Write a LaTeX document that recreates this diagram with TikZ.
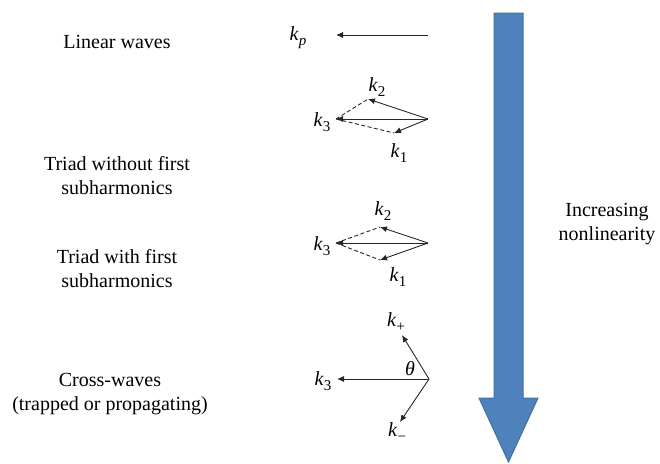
\documentclass[tikz,border=0pt]{standalone}
\usepackage{fontspec}
\setmainfont{Liberation Serif}
\usetikzlibrary{arrows.meta}
\newcommand{\kvec}[1]{\textit{k}\kern0.3pt\raisebox{-0.55ex}{\fontsize{15}{15}\selectfont #1}}
\definecolor{bigblue}{HTML}{4F81BD}
\definecolor{bigedge}{HTML}{41719C}
\begin{document}
\begin{tikzpicture}[x=1pt,y=-1pt,
  lbl/.style={font=\fontsize{20}{24}\selectfont, align=center, inner sep=0pt},
  klbl/.style={font=\fontsize{20}{24}\selectfont, inner sep=0pt},
  vec/.style={draw=black!85, line width=0.9pt, -{Latex[length=7pt,width=6pt]}},
  dvec/.style={draw=black!85, line width=0.9pt, dash pattern=on 4pt off 2.5pt},
  bigarrow/.style={fill=bigblue, draw=bigedge, line width=1pt}]
\useasboundingbox (0,0) rectangle (660,463);

% big arrow
\path[bigarrow] (494,13) -- (523,13) -- (523,398) -- (538,398) -- (508.5,462) -- (479,398) -- (494,398) -- cycle;
\node[lbl] (inc) at (607,224) {Increasing\\nonlinearity};

% left labels
\node[lbl] (lin) at (117,42) {Linear waves};
\node[lbl] (tw) at (117,176) {Triad without first\\subharmonics};
\node[lbl] (tf) at (117,269) {Triad with first\\subharmonics};
\node[lbl] (cw) at (110,394) {Cross-waves\\(trapped or propagating)};

% linear waves
\coordinate (o1) at (428,35);
\coordinate (kp) at (336,35);
\draw[vec] (o1) -- (kp);
\node[klbl] (lkp) at (298,38) {\kvec{\textit{p}}};

% triad without
\coordinate (o2) at (428,119);
\coordinate (a3) at (336,119);
\coordinate (a2) at (368,99);
\coordinate (a1) at (394,133);
\draw[dvec] (a3) -- (a2);
\draw[dvec] (a3) -- (a1);
\draw[vec] (o2) -- (a3);
\draw[vec] (o2) -- (a2);
\draw[vec] (o2) -- (a1);
\node[klbl] (l2a) at (377,87) {\kvec{2}};
\node[klbl] (l3a) at (322,122) {\kvec{3}};
\node[klbl] (l1a) at (399,153) {\kvec{1}};

% triad with
\coordinate (o3) at (428,243);
\coordinate (b3) at (336,243);
\coordinate (b2) at (380,227);
\coordinate (b1) at (380,260);
\draw[dvec] (b3) -- (b2);
\draw[dvec] (b3) -- (b1);
\draw[vec] (o3) -- (b3);
\draw[vec] (o3) -- (b2);
\draw[vec] (o3) -- (b1);
\node[klbl] (l2b) at (383,211) {\kvec{2}};
\node[klbl] (l3b) at (322,246) {\kvec{3}};
\node[klbl] (l1b) at (398,277) {\kvec{1}};

% cross waves
\coordinate (o4) at (429,379);
\coordinate (c3) at (337,379);
\coordinate (cp) at (402,335);
\coordinate (cm) at (400,422);
\draw[vec] (o4) -- (c3);
\draw[vec] (o4) -- (cp);
\draw[vec] (o4) -- (cm);
\node[klbl] (lcp) at (396,322) {\kvec{+}};
\node[klbl] (lc3) at (323,381) {\kvec{3}};
\node[klbl] (lth) at (410,369) {\textit{θ}};
\node[klbl] (lcm) at (397,432) {\kvec{−}};
\end{tikzpicture}
\end{document}
